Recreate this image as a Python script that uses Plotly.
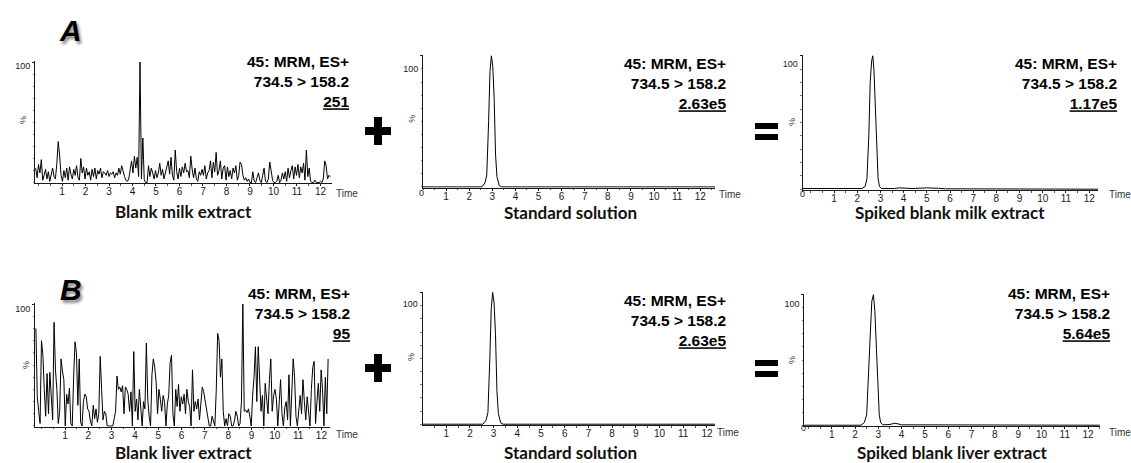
import plotly.graph_objects as go

W, H = 1131, 463

# ---------------- chromatogram data (relative intensity, %) ----------------
SCAN_STEP = 0.06  # min between consecutive scans of the blank runs

milk_blank_start = -0.12
milk_blank = [
    12, 4, 15, 8, 19, 2, 6, 11, 3, 9, 1, 7, 12, 5, 3, 16, 34,
    22, 6, 1, 10, 4, 12, 2, 13, 7, 3, 11, 6, 14, 4, 2, 20, 8,
    13, 3, 12, 6, 9, 2, 11, 5, 12, 3, 10, 7, 12, 4, 9, 8, 6,
    10, 5, 8, 7, 9, 4, 8, 6, 12, 7, 14, 9, 5, 2, 1, 3, 10,
    18, 8, 22, 12, 21, 5, 100, 3, 37, 2, 0, 0, 14, 5, 12, 8, 3,
    10, 4, 8, 16, 6, 11, 3, 9, 13, 18, 7, 21, 6, 2, 27, 9, 3,
    12, 5, 13, 8, 16, 9, 10, 4, 22, 11, 4, 12, 3, 1, 9, 6, 11,
    6, 14, 3, 8, 10, 18, 4, 17, 9, 25, 6, 10, 18, 3, 12, 14, 2,
    13, 5, 10, 3, 12, 8, 14, 2, 6, 17, 15, 6, 2, 4, 1, 3, 0,
    0, 9, 1, 0, 4, 8, 2, 0, 6, 12, 1, 0, 3, 17, 10, 2, 0,
    0, 1, 6, 0, 2, 8, 3, 9, 1, 12, 4, 10, 14, 3, 13, 6, 15,
    4, 13, 8, 16, 2, 27, 5, 12, 1, 0, 0, 2, 0, 0, 0, 1, 0,
    3, 18, 14, 3, 6, 5,
]

liver_blank_start = -0.25
liver_blank = [
    80, 24, 12, 2, 70, 58, 30, 8, 43, 10, 44, 28, 5, 85, 46, 30, 2,
    12, 55, 45, 38, 0, 26, 18, 31, 2, 0, 40, 69, 60, 17, 55, 3, 0,
    20, 26, 24, 14, 12, 4, 0, 17, 6, 14, 3, 10, 57, 30, 5, 12, 10,
    0, 0, 0, 0, 0, 6, 12, 41, 30, 32, 28, 33, 10, 32, 30, 26, 12,
    28, 0, 61, 12, 22, 5, 30, 10, 0, 20, 14, 68, 22, 8, 0, 42, 55,
    48, 36, 10, 30, 22, 12, 25, 20, 0, 18, 25, 52, 58, 10, 0, 30, 16,
    34, 12, 24, 18, 26, 10, 30, 20, 16, 0, 46, 12, 20, 14, 22, 5, 18,
    32, 28, 20, 12, 5, 0, 0, 8, 4, 0, 30, 76, 70, 40, 55, 12, 0,
    6, 0, 10, 8, 0, 0, 4, 12, 8, 0, 2, 20, 100, 12, 13, 11, 14,
    8, 0, 25, 40, 65, 20, 65, 30, 12, 25, 0, 35, 20, 10, 38, 55, 12,
    25, 30, 22, 0, 18, 38, 10, 0, 15, 20, 5, 42, 0, 30, 55, 40, 8,
    0, 16, 25, 10, 38, 20, 5, 24, 14, 0, 30, 48, 53, 2, 20, 35, 12,
    46, 30, 0, 40, 10, 55,
]

std_time = [0.0, 2.55, 2.68, 2.76, 2.84, 2.90, 2.96, 3.02, 3.08, 3.14, 3.20, 3.30, 3.40, 12.64]
std_int = [0, 0, 3, 9, 50, 88, 100, 92, 68, 25, 8, 1, 0, 0]

milk_spiked_time = [-0.35, 2.20, 2.34, 2.42, 2.50, 2.56, 2.62, 2.67, 2.72, 2.78, 2.84,
                    2.90, 2.96, 3.05, 3.60, 3.80, 4.40, 5.00, 5.50, 5.80, 12.38]
milk_spiked_int = [0.5, 0.5, 2, 8, 40, 80, 96, 100, 90, 62, 25, 8, 2, 0.5, 0.5, 1, 0.5, 1, 0.7, 0.3, 0]

liver_spiked_time = [-0.18, 2.25, 2.40, 2.50, 2.58, 2.65, 2.72, 2.79, 2.85, 2.92, 2.98,
                     3.04, 3.10, 3.20, 3.50, 3.70, 3.85, 4.00, 12.50]
liver_spiked_int = [0, 0, 2, 8, 40, 75, 95, 100, 88, 58, 25, 8, 2, 0.3, 0.6, 1.5, 1, 0.3, 0]

channel_lines = ["45: MRM, ES+", "734.5 > 158.2"]
abs_intensity = ["251", "2.63e5", "1.17e5", "95", "2.63e5", "5.64e5"]
sample_names = ["Blank milk extract", "Standard solution", "Spiked blank milk extract",
                "Blank liver extract", "Standard solution", "Spiked blank liver extract"]
time_ticks = list(range(1, 13))
row_labels = ["A", "B"]


def scan_times(start, n):
    return [round(start + SCAN_STEP * i, 3) for i in range(n)]


traces = [
    (scan_times(milk_blank_start, len(milk_blank)), milk_blank),
    (std_time, std_int),
    (milk_spiked_time, milk_spiked_int),
    (scan_times(liver_blank_start, len(liver_blank)), liver_blank),
    (std_time, std_int),
    (liver_spiked_time, liver_spiked_int),
]

# ---------------- panel geometry (pixels) ----------------
# shift: how far the "100" label sits below the top of its axis
panels = [
    dict(box=(35, 332, 61.3, 183.3), xr=(-0.149, 12.49), shift=4, zero=None,
         info=(351, 82), name=(183, 211), time=(347, 193), pct=(23, 120)),
    dict(box=(423, 715, 55, 187.7), xr=(0.0, 12.64), shift=13, zero=(421.7, 192.5),
         info=(727.7, 83), name=(570, 212), time=(730, 195), pct=(411.7, 119)),
    dict(box=(802.7, 1098, 55, 190), xr=(-0.35, 12.38), shift=8, zero=(802, 194),
         info=(1119, 83), name=(950, 212), time=(1120, 195), pct=(792, 122)),
    dict(box=(35, 330, 303.3, 426.7), xr=(-0.288, 12.37), shift=5, zero=None,
         info=(351.7, 313.3), name=(183, 452), time=(347, 434), pct=(26, 365)),
    dict(box=(422.7, 715, 291.7, 425), xr=(0.008, 12.34), shift=11, zero=None,
         info=(727.7, 320.7), name=(570, 452), time=(728, 432), pct=(411, 357)),
    dict(box=(804.3, 1100, 294, 426), xr=(-0.176, 12.51), shift=9, zero=(803.3, 428),
         info=(1112, 313.3), name=(952, 452), time=(1120, 432), pct=(792, 360)),
]


def fx(px):
    return px / W


def fy(py):
    return 1 - py / H


AX_FONT = "Liberation Sans, Arial, sans-serif"
NAME_FONT = "Lato, Open Sans, sans-serif"
INK = "#1a1a1a"

fig = go.Figure()
annotations = []
layout = {}

for i, (p, (tx, ty)) in enumerate(zip(panels, traces), start=1):
    x0, x1, yt, yb = p["box"]
    sfx = "" if i == 1 else str(i)
    fig.add_trace(go.Scatter(
        x=tx, y=ty, mode="lines",
        line=dict(color="black", width=1),
        xaxis="x" + sfx, yaxis="y" + sfx,
        showlegend=False, hoverinfo="skip",
    ))
    layout["xaxis" + sfx] = dict(
        domain=[fx(x0), fx(x1)], range=list(p["xr"]), anchor="y" + sfx,
        automargin=False,
        showline=True, linecolor=INK, linewidth=1, showgrid=False, zeroline=False,
        ticks="outside", ticklen=2, tickcolor=INK, tickwidth=1,
        tickmode="array", tickvals=time_ticks, ticktext=[str(t) for t in time_ticks],
        tickfont=dict(family=AX_FONT, size=10, color=INK),
        ticklabelstandoff=-3,
        minor=dict(ticks="outside", ticklen=1.5, dtick=0.5, tickcolor="#555"),
        fixedrange=True,
    )
    layout["yaxis" + sfx] = dict(
        domain=[fy(yb), fy(yt)], range=[-0.6, 100.6], anchor="x" + sfx,
        automargin=False,
        showline=True, linecolor=INK, linewidth=1, showgrid=False, zeroline=False,
        ticks="outside", ticklen=2, tickcolor=INK,
        tickmode="array", tickvals=[100], ticktext=["100"],
        tickfont=dict(family=AX_FONT, size=9, color=INK),
        ticklabelshift=p["shift"],
        minor=dict(ticks="outside", ticklen=1.5, dtick=10, tickcolor="#777"),
        fixedrange=True,
    )

    # channel description with absolute intensity of the 100 % signal
    ix, iy = p["info"]
    annotations.append(dict(
        x=fx(ix), y=fy(iy), xref="paper", yref="paper",
        xanchor="right", yanchor="middle", align="right", showarrow=False,
        text=f"{channel_lines[0]}<br>{channel_lines[1]}<br><u>{abs_intensity[i - 1]}</u>",
        font=dict(family=AX_FONT, size=15.5, color="black", weight="bold"),
    ))
    # sample name under the trace
    nx, ny = p["name"]
    annotations.append(dict(
        x=fx(nx), y=fy(ny), xref="paper", yref="paper",
        xanchor="center", yanchor="middle", showarrow=False,
        text=sample_names[i - 1],
        font=dict(family=NAME_FONT, size=17, color="#111", weight="bold"),
    ))
    # axis captions
    tx_, ty_ = p["time"]
    annotations.append(dict(
        x=fx(tx_), y=fy(ty_), xref="paper", yref="paper",
        xanchor="center", yanchor="middle", showarrow=False, text="Time",
        font=dict(family=AX_FONT, size=10, color="#333"),
    ))
    px_, py_ = p["pct"]
    annotations.append(dict(
        x=fx(px_), y=fy(py_), xref="paper", yref="paper", textangle=-90,
        xanchor="center", yanchor="middle", showarrow=False, text="%",
        font=dict(family=AX_FONT, size=9, color="#333"),
    ))
    if p["zero"]:
        zx, zy = p["zero"]
        annotations.append(dict(
            x=fx(zx), y=fy(zy), xref="paper", yref="paper",
            xanchor="center", yanchor="middle", showarrow=False, text="0",
            font=dict(family=AX_FONT, size=9, color=INK),
        ))

# row labels
for lab, (lx, ly) in zip(row_labels, [(70, 30), (71, 289)]):
    annotations.append(dict(
        x=fx(lx), y=fy(ly), xref="paper", yref="paper",
        xanchor="center", yanchor="middle", showarrow=False, text=lab,
        font=dict(family=AX_FONT, size=30, color="black", weight="bold",
                  style="italic", shadow="2px 3px 3px rgba(0,0,0,0.45)"),
    ))

# "+" and "=" operators between the panels
shapes = []


def rect(px0, py0, px1, py1):
    shapes.append(dict(type="rect", xref="paper", yref="paper",
                       x0=fx(px0), x1=fx(px1), y0=fy(py1), y1=fy(py0),
                       fillcolor="black", line=dict(width=0)))


for cy in (131, 368):
    rect(365, cy - 4, 391, cy + 4)      # plus: horizontal bar
    rect(374, cy - 14, 382, cy + 14)    # plus: vertical bar
    rect(755, cy - 8, 778, cy - 2)      # equals: upper bar
    rect(755, cy + 3, 778, cy + 9)      # equals: lower bar

fig.update_layout(
    width=W, height=H, autosize=False,
    margin=dict(l=0, r=0, t=0, b=0, autoexpand=False),
    paper_bgcolor="white", plot_bgcolor="white",
    annotations=annotations, shapes=shapes,
    **layout,
)

fig.write_html("out.html")
